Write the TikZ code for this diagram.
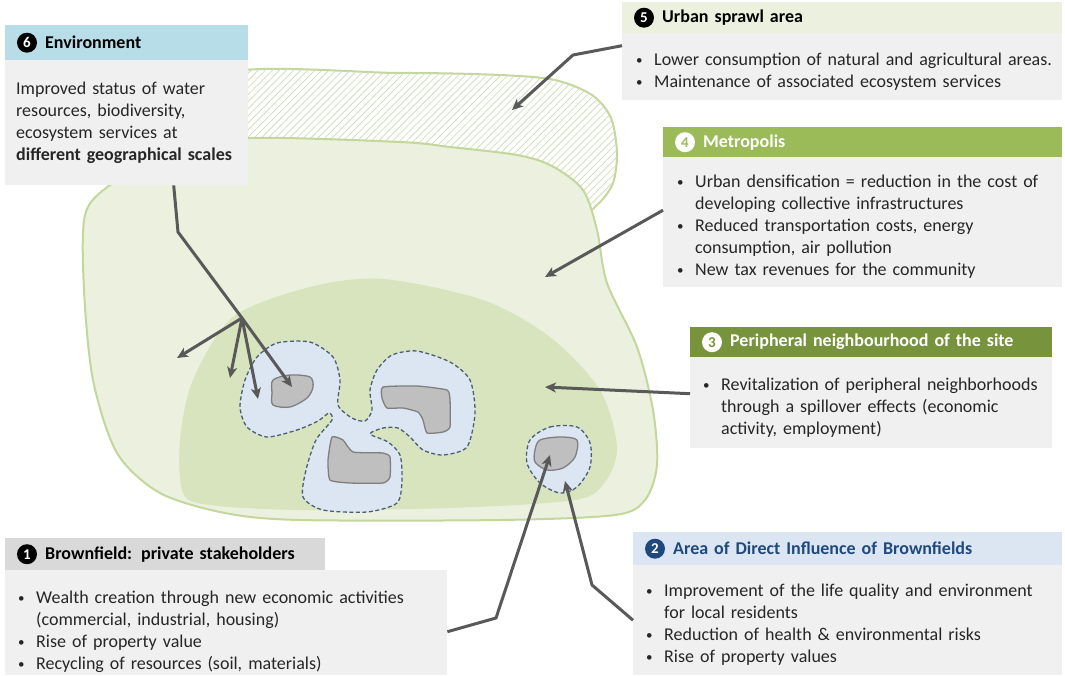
\documentclass[tikz,border=0pt]{standalone}
\usepackage{fontspec}
\setmainfont{Carlito}
\usetikzlibrary{arrows.meta,patterns.meta}
\definecolor{boxgray}{HTML}{F0F0F0}
\definecolor{envblue}{HTML}{B7DEE8}
\definecolor{sprawl}{HTML}{EBF1DE}
\definecolor{metro}{HTML}{9BBB59}
\definecolor{periph}{HTML}{77933C}
\definecolor{adib}{HTML}{DCE6F2}
\definecolor{navy}{HTML}{1F497D}
\definecolor{bfgray}{HTML}{D9D9D9}
\definecolor{metrofill}{HTML}{EBF1DE}
\definecolor{metroline}{HTML}{C3D69B}
\definecolor{hatch}{HTML}{D3DFBC}
\definecolor{innerfill}{HTML}{D7E4BD}
\definecolor{zonefill}{HTML}{DCE6F2}
\definecolor{zoneline}{HTML}{4A5F77}
\definecolor{sitefill}{HTML}{BFBFBF}
\definecolor{siteline}{HTML}{7F7F7F}
\definecolor{arrgray}{HTML}{595959}
\definecolor{txt}{HTML}{262626}
\newcommand\bitem{\par\hangindent=18pt\hangafter=1\noindent\makebox[18pt][l]{\raisebox{1pt}{\fontsize{13}{13}\selectfont\textbullet}}}
\newcommand\lpad[1]{\leftskip=#1\relax}
\tikzset{
  arr/.style={draw=arrgray, line width=3pt, line join=round, -{Stealth[length=11pt,width=10pt,inset=3pt]}},
  hd/.style={anchor=north west, inner sep=0pt, align=left, font=\bfseries\fontsize{18}{22}\selectfont},
  bd/.style={anchor=north west, fill=boxgray, inner sep=0pt, align=left, text=txt, font=\fontsize{18}{22}\selectfont},
  numdot/.style={circle, inner sep=0pt, minimum size=20pt, font=\bfseries\fontsize{15}{15}\selectfont},
  zone/.style={fill=zonefill, draw=zoneline, line width=1.3pt, dash pattern=on 4pt off 2.5pt},
  site/.style={fill=sitefill, draw=siteline, line width=1.3pt},
}
\begin{document}
\begin{tikzpicture}[x=1pt,y=-1pt]
\useasboundingbox (0,0) rectangle (1065,675);
\draw[metroline, line width=2pt, fill=white, postaction={pattern={Lines[angle=45,distance=5pt,line width=0.8pt]}, pattern color=hatch}]
  plot[smooth cycle] coordinates {(215,76) (400,73) (500,75) (555,80) (592,95) (611,118) (617,153) (613,183) (598,204) (575,215) (500,190) (300,175) (220,175)};
\draw[metroline, line width=2pt, fill=metrofill]
  plot[smooth cycle] coordinates {(250,138) (400,142) (450,147) (517,155) (552,166) (583,190) (597,230) (607,283) (637,347) (653,410) (657,465) (645,500) (615,515) (500,520) (300,520) (225,513) (160,493) (117,453) (93,380) (84,290) (85,215) (110,185) (170,150)};
\fill[innerfill]
  plot[smooth cycle] coordinates {(183,493) (180,440) (193,380) (233,317) (310,287) (383,279) (483,300) (550,337) (600,390) (617,447) (605,482) (575,500) (450,508) (300,510) (210,505)};
\draw[zone] plot[smooth cycle, tension=0.45] coordinates {(257,357) (277,343) (310,342) (333,357) (340,380) (338,405) (352,418) (365,421) (372,410) (370,390) (377,370) (392,355) (417,351) (450,362) (470,380) (475,413) (467,447) (443,455) (423,450) (410,437) (398,428) (383,428) (370,434) (388,442) (400,455) (402,480) (397,503) (367,512) (323,510) (303,497) (306,470) (316,440) (332,420) (329,413) (318,421) (297,430) (267,437) (247,427) (240,407) (245,380)};
\draw[zone] plot[smooth cycle] coordinates {(530,440) (550,427) (577,427) (590,443) (590,467) (577,487) (560,493) (540,483) (527,463)};
\draw[site] plot[smooth cycle, tension=0.5] coordinates {(273,380) (290,375) (310,377) (313,387) (307,398) (290,407) (273,405) (272,393)};
\draw[site] plot[smooth cycle, tension=0.3] coordinates {(383,387) (417,386) (447,390) (450,400) (450,427) (443,432) (427,433) (423,420) (418,412) (403,408) (387,408) (382,398)};
\draw[site] plot[smooth cycle, tension=0.3] coordinates {(332,437) (343,440) (353,452) (383,453) (390,457) (390,477) (383,483) (350,483) (330,480) (328,460)};
\draw[site] plot[smooth cycle, tension=0.5] coordinates {(535,450) (540,440) (560,437) (577,440) (575,457) (563,468) (547,470) (535,462)};

\node[hd, fill=envblue, text width=243pt, minimum height=35pt] (h6) at (5,25) {\lpad{40pt}Environment\par};
\node[bd, text width=243pt, minimum height=125pt] (b6) at (5,60) {\lpad{11pt}Improved status of water\newline resources, biodiversity,\newline ecosystem services at\newline \textbf{different geographical scales}\par};
\node[numdot, fill=black, text=white] (n6) at ([xshift=22pt]h6.west) {6};

\node[hd, fill=sprawl, text width=440pt, minimum height=31pt] (h5) at (622,2) {\lpad{40pt}Urban sprawl area\par};
\node[bd, text width=440pt, minimum height=67pt] (b5) at (622,33) {\lpad{14pt}\bitem Lower consumption of natural and agricultural areas.\bitem Maintenance of associated ecosystem services\par};
\node[numdot, fill=black, text=white] (n5) at ([xshift=22pt]h5.west) {5};

\node[hd, fill=metro, text=white, text width=399pt, minimum height=30pt] (h4) at (663,127) {\lpad{40pt}Metropolis\par};
\node[bd, text width=399pt, minimum height=130pt] (b4) at (663,157) {\lpad{14pt}\bitem Urban densification = reduction in the cost of\newline developing collective infrastructures\bitem Reduced transportation costs, energy\newline consumption, air pollution\bitem New tax revenues for the community\par};
\node[numdot, fill=white, text=metro] (n4) at ([xshift=22pt]h4.west) {4};

\node[hd, fill=periph, text=white, text width=362pt, minimum height=30pt] (h3) at (690,327) {\lpad{40pt}Peripheral neighbourhood of the site\par};
\node[bd, text width=362pt, minimum height=91pt] (b3) at (690,357) {\lpad{13pt}\bitem Revitalization of peripheral neighborhoods\newline through a spillover effects (economic\newline activity, employment)\par};
\node[numdot, fill=white, text=periph] (n3) at ([xshift=22pt]h3.west) {3};

\node[hd, fill=adib, text=navy, text width=429pt, minimum height=33pt] (h2) at (633,532) {\lpad{40pt}Area of Direct Influence of Brownfields\par};
\node[bd, text width=429pt, minimum height=110pt] (b2) at (633,565) {\lpad{13pt}\bitem Improvement of the life quality and environment\newline for local residents\bitem Reduction of health \& environmental risks\bitem Rise of property values\par};
\node[numdot, fill=navy, text=white] (n2) at ([xshift=22pt]h2.west) {2};

\node[hd, fill=bfgray, text width=320pt, minimum height=32pt] (h1) at (5,538) {\lpad{40pt}Brownfield: private stakeholders\par};
\node[bd, text width=442pt, minimum height=105pt] (b1) at (5,570) {\lpad{13pt}\vspace*{8pt}\bitem Wealth creation through new economic activities\newline (commercial, industrial, housing)\bitem Rise of property value\bitem Recycling of resources (soil, materials)\par};
\node[numdot, fill=black, text=white] (n1) at ([xshift=22pt]h1.west) {1};

\coordinate (k5) at (573,55);   \coordinate (t5) at (512,110);
\coordinate (t4) at (545,277);
\coordinate (t3) at (545,387);
\coordinate (k2) at (592,585);  \coordinate (t2) at (565,481);
\coordinate (k1) at (496,618);  \coordinate (t1) at (550,455);
\coordinate (k6) at (178,232);  \coordinate (hub) at (242,318);
\coordinate (t6a) at (292,387); \coordinate (t6b) at (177,358);
\coordinate (t6c) at (230,378); \coordinate (t6d) at (258,399);

\draw[arr] ([yshift=21pt]b5.west) -- (k5) -- (t5);
\draw[arr] ([yshift=12pt]b4.west) -- (t4);
\draw[arr] ([yshift=9pt]b3.west) -- (t3);
\draw[arr] (b2.west) -- (k2) -- (t2);
\draw[arr] ([yshift=-9pt]b1.east) -- (k1) -- (t1);
\draw[arr] ([xshift=47pt]b6.south) -- (k6) -- (hub) -- (t6a);
\foreach \t in {t6b,t6c,t6d}
  \draw[arr] (hub) -- (\t);
\end{tikzpicture}
\end{document}
